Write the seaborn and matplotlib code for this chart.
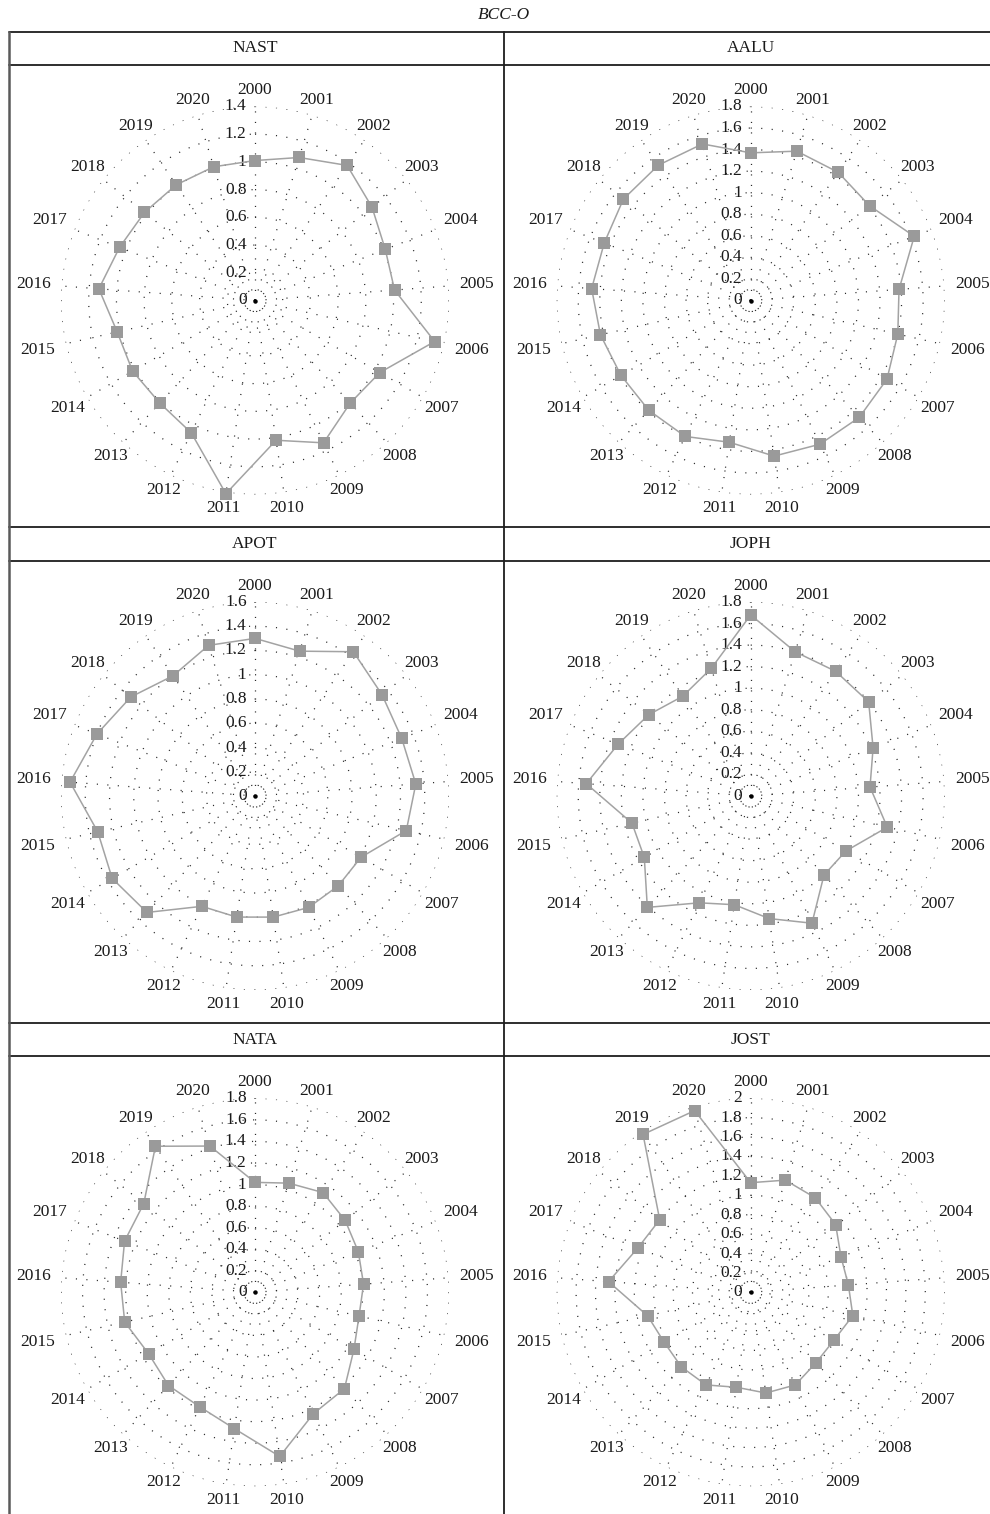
import numpy as np
import pandas as pd
import matplotlib
matplotlib.use("Agg")
import matplotlib.pyplot as plt
from matplotlib.lines import Line2D
import seaborn as sns

# ---- data -------------------------------------------------------------
years = ["2000", "2001", "2002", "2003", "2004", "2005", "2006", "2007",
         "2008", "2009", "2010", "2011", "2012", "2013", "2014", "2015",
         "2016", "2017", "2018", "2019", "2020"]

panel_names = ["NAST", "AALU", "APOT", "JOPH", "NATA", "JOST"]

nast = [1.01, 1.08, 1.18, 1.08, 1.01, 1.01, 1.33, 1.04, 1.01, 1.14, 1.02,
        1.41, 1.06, 1.01, 1.02, 1.02, 1.13, 1.05, 1.02, 1.01, 1.01]
aalu = [1.37, 1.45, 1.44, 1.41, 1.63, 1.38, 1.40, 1.46, 1.48, 1.48, 1.46,
        1.33, 1.40, 1.39, 1.39, 1.43, 1.48, 1.46, 1.51, 1.52, 1.52]
apot = [1.30, 1.25, 1.44, 1.34, 1.30, 1.33, 1.28, 1.01, 1.01, 1.02, 1.01,
        1.01, 1.01, 1.31, 1.36, 1.33, 1.53, 1.40, 1.31, 1.20, 1.30]
joph = [1.68, 1.40, 1.40, 1.40, 1.22, 1.11, 1.30, 1.02, 1.00, 1.31, 1.15,
        1.02, 1.10, 1.41, 1.14, 1.13, 1.53, 1.32, 1.21, 1.12, 1.24]
nata = [1.02, 1.06, 1.12, 1.07, 1.03, 1.01, 0.99, 1.06, 1.22, 1.25, 1.54,
        1.28, 1.18, 1.18, 1.14, 1.24, 1.25, 1.30, 1.32, 1.64, 1.42]
jost = [1.13, 1.21, 1.18, 1.12, 1.00, 1.01, 1.08, 0.99, 0.99, 1.06, 1.05,
        0.99, 1.06, 1.05, 1.03, 1.09, 1.47, 1.25, 1.20, 1.97, 1.96]

series = [nast, aalu, apot, joph, nata, jost]
radial_max = [1.4, 1.8, 1.6, 1.8, 1.8, 2.0]
radial_step = 0.2
title = "BCC-O"

# ---- style ------------------------------------------------------------
sns.set_theme(style="white")
plt.rcParams["font.family"] = ["Liberation Serif", "DejaVu Serif"]
plt.rcParams["text.color"] = "#1a1a1a"

W, H = 990, 1514
fig = plt.figure(figsize=(W / 100, H / 100), dpi=100)
fig.patch.set_facecolor("white")

FS = 12.5
GRID_KW = dict(color="#2b2b2b", lw=0.9, linestyle=(0, (0.9, 7.5)), zorder=1)


def fx(x):
    return x / W


def fy(y):
    return 1 - y / H


# table frame
x_left, x_mid, x_right = 8.7, 504.3, W
y_top = 32
h_lines = [32, 64.5, 527.3, 560.7, 1023, 1056.3]
for y in h_lines:
    fig.add_artist(Line2D([fx(x_left), fx(x_right)], [fy(y), fy(y)],
                          color="#1e1e1e", lw=1.3))
fig.add_artist(Line2D([fx(x_left), fx(x_left)], [fy(y_top), fy(H)],
                      color="#5a5a5a", lw=1.8))
fig.add_artist(Line2D([fx(x_mid), fx(x_mid)], [fy(y_top), fy(H)],
                      color="#1e1e1e", lw=1.3))

fig.text(fx(504), fy(15), title, ha="center", va="center",
         fontsize=FS, style="italic")

# panel geometry (pixel centres)
centers = [(255, 300.5), (750.7, 300.5),
           (255, 796), (750.7, 796),
           (255, 1292.3), (750.7, 1292.3)]
header_y = [48, 48, 544, 544, 1040, 1040]
R = 194  # outer ring radius in pixels

n = len(years)
theta = np.arange(n) * 2 * np.pi / n

label_w, label_h = 36, 12

for k, (name, vals, rmax) in enumerate(zip(panel_names, series, radial_max)):
    cx, cy = centers[k]
    ax = fig.add_axes([fx(cx - R), fy(cy + R), 2 * R / W, 2 * R / H],
                      projection="polar")
    ax.set_theta_zero_location("N")
    ax.set_theta_direction(-1)
    ax.set_ylim(0, rmax)
    ax.set_xticks([])
    ax.set_yticks([])
    ax.grid(False)
    ax.spines["polar"].set_visible(False)
    ax.patch.set_alpha(0)

    levels = np.round(np.arange(0, rmax + 1e-9, radial_step), 1)

    # dotted rings and spokes
    circ = np.linspace(0, 2 * np.pi, 720)
    for lv in levels[1:]:
        ax.plot(circ, np.full_like(circ, lv), **GRID_KW)
    for t in theta:
        ax.plot([t, t], [0, rmax], **GRID_KW)
    ax.plot([0], [0], marker="o", ms=2.2, color="black", zorder=3)

    # radial tick labels along the 2000 spoke
    for lv in levels:
        ax.annotate(f"{lv:g}", xy=(0, lv), xytext=(-6, 0),
                    textcoords="offset points", ha="right", va="center",
                    fontsize=FS, zorder=2)

    # year labels around the outside
    for t, yr in zip(theta, years):
        s, c = np.sin(t), np.cos(t)
        d = min((label_w / 2) / max(abs(s), 1e-6),
                (label_h / 2) / max(abs(c), 1e-6))
        rp = R + 10 + d
        ax.text(t, rmax * rp / R, yr, ha="center", va="center",
                fontsize=FS, clip_on=False)

    # the series as a closed polygon with square markers
    df = pd.DataFrame({"theta": list(theta) + [2 * np.pi],
                       "value": list(vals) + [vals[0]]})
    sns.lineplot(data=df, x="theta", y="value", ax=ax, sort=False,
                 color="#a3a3a3", lw=1.1, marker="s", markersize=9,
                 markerfacecolor="#9a9a9a", markeredgecolor="#9a9a9a",
                 markeredgewidth=0, zorder=4, clip_on=False)
    ax.set_xlabel("")
    ax.set_ylabel("")
    ax.set_ylim(0, rmax)

    fig.text(fx(cx), fy(header_y[k]), name, ha="center", va="center",
             fontsize=FS)

fig.savefig("out.png", dpi=100)
